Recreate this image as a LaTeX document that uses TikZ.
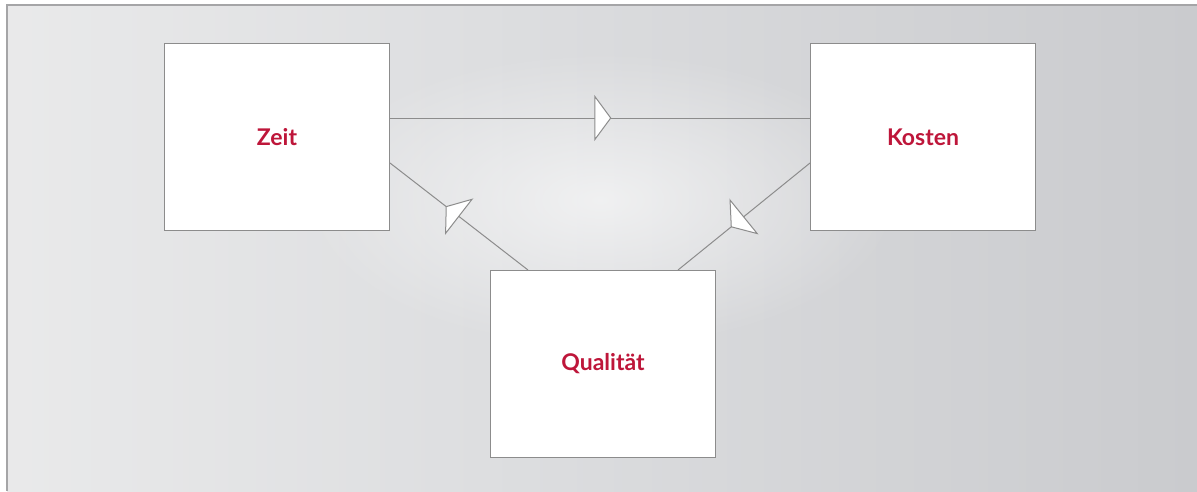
\documentclass[tikz,border=0pt]{standalone}
\usepackage{fontspec}
\setmainfont{Lato}
\usetikzlibrary{arrows.meta,decorations.markings,fadings}
\definecolor{textred}{RGB}{190,22,58}
\definecolor{linegray}{RGB}{140,140,140}
\definecolor{framegray}{RGB}{165,165,167}
\definecolor{bgleft}{RGB}{222,223,225}
\definecolor{bglight}{RGB}{241,241,241}
\definecolor{bgmid}{RGB}{221,222,224}
\definecolor{bgright}{RGB}{186,187,191}
\pgfdeclarehorizontalshading{panelshade}{100bp}{color(0bp)=(bgleft); color(12bp)=(bglight); color(45bp)=(bgmid); color(100bp)=(bgright)}
\tikzfading[name=glow, inner color=transparent!40, outer color=transparent!100]
\tikzset{
  box/.style={draw=linegray, fill=white, line width=1pt, minimum width=225pt, minimum height=187pt, inner sep=0pt, text=textred, font=\bfseries\fontsize{23}{27}\selectfont},
  link/.style={draw=linegray, line width=1pt, postaction={decorate},
    decoration={markings, mark=at position #1 with {\arrow{Triangle[length=17pt,width=46pt,fill=white]}}}},
}
\begin{document}
\begin{tikzpicture}[x=1pt,y=-1pt]
    \useasboundingbox (0,0) rectangle (1197,491);
    % background panel
    \fill[shading=panelshade] (7,5) rectangle (1197,491);
    \fill[white, path fading=glow] (600,200) ellipse (300 and 150);
    \draw[framegray, line width=2pt] (7,491) -- (7,5) -- (1197,5);
    % the three boxes
    \node[box] (zeit) at (277,137) {Zeit};
    \node[box] (kosten) at (923,137) {Kosten};
    \node[box] (qualitaet) at (603,364) {Qualität};
    % connectors
    \draw[link=0.527] ([yshift=19pt]zeit.east) -- ([yshift=19pt]kosten.west);
    \draw[link=0.6] ([yshift=-26pt]kosten.west) -- ([xshift=75pt]qualitaet.north);
    \draw[link=0.596] ([xshift=-75pt]qualitaet.north) -- ([yshift=-26pt]zeit.east);
\end{tikzpicture}
\end{document}
